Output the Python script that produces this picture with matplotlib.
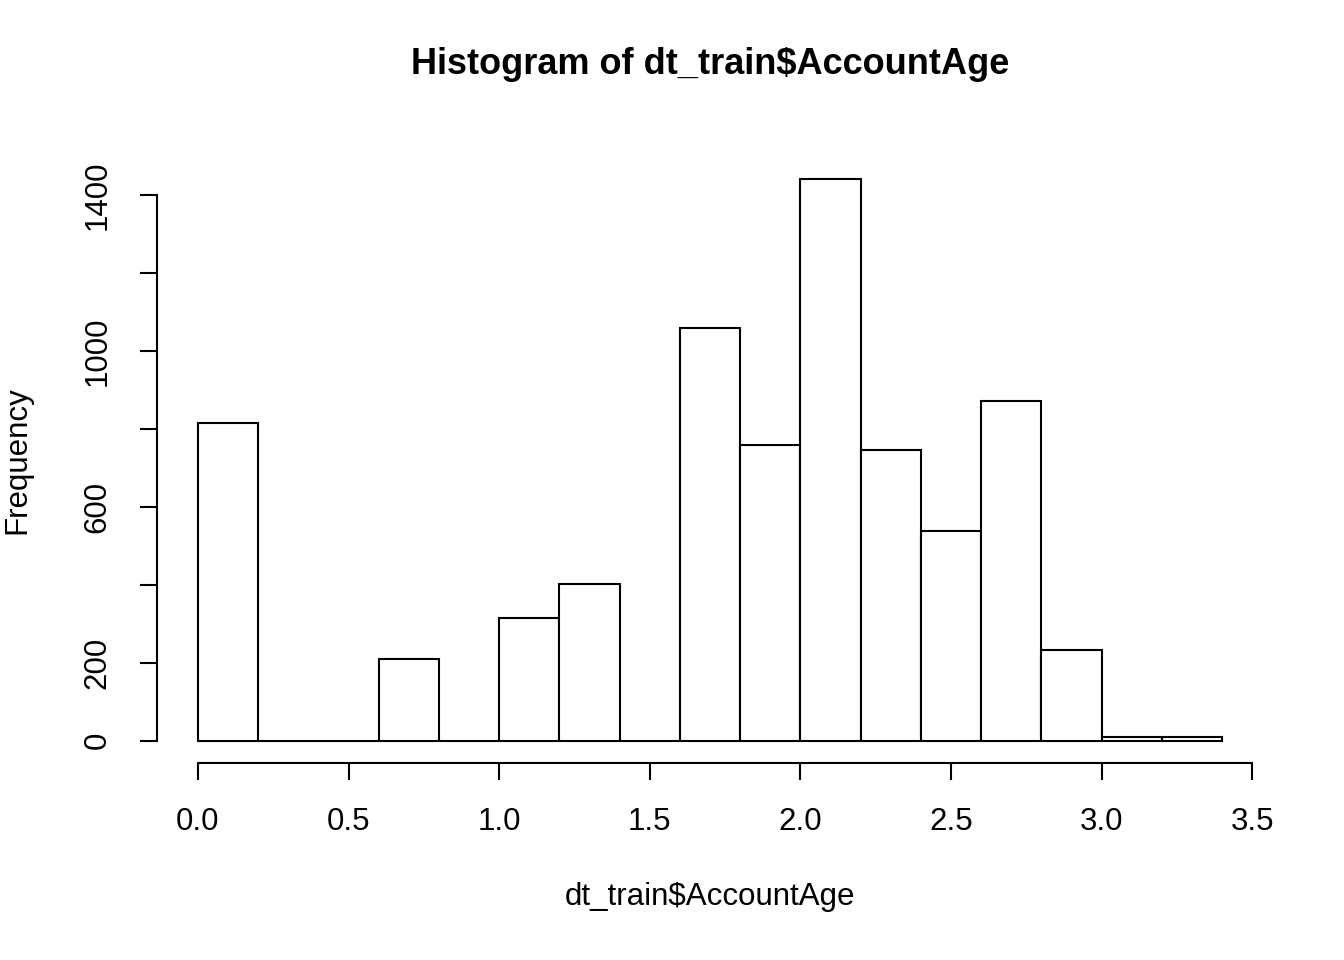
import numpy as np
import matplotlib
matplotlib.use("Agg")
import matplotlib.pyplot as plt

plt.rcParams['font.family'] = ['Liberation Sans', 'DejaVu Sans']

# histogram bins (0.2 wide) and counts
bin_edges = np.round(np.arange(0, 3.41, 0.2), 2)
counts = [815, 0, 0, 210, 0, 315, 403, 0, 1059, 759, 1441, 746, 538, 872, 233, 10, 10]
x_ticks = [0.0, 0.5, 1.0, 1.5, 2.0, 2.5, 3.0, 3.5]
y_ticks = [0, 200, 400, 600, 800, 1000, 1200, 1400]
y_labels = ['0', '200', '', '600', '', '1000', '', '1400']

W, H = 1344, 960
fig = plt.figure(figsize=(W / 100, H / 100), dpi=100)
ax = fig.add_axes([157 / W, 1 - 763 / H, (1263 - 157) / W, (763 - 157) / H])

ax.bar(bin_edges[:-1], counts, width=0.2, align='edge',
       facecolor='white', edgecolor='black', linewidth=1.5)

ax.set_xlim(-0.136, 3.536)
ax.set_ylim(-57.6, 1498.6)
for s in ['top', 'right']:
    ax.spines[s].set_visible(False)
ax.spines['bottom'].set_bounds(0, 3.5)
ax.spines['left'].set_bounds(0, 1400)
for s in ['bottom', 'left']:
    ax.spines[s].set_linewidth(1.5)

ax.set_xticks(x_ticks)
ax.set_xticklabels([f"{v:.1f}" for v in x_ticks])
ax.set_yticks(y_ticks)
ax.set_yticklabels(y_labels, rotation=90, va='center')
ax.tick_params(length=12, width=1.5, labelsize=22.5, pad=20)

ax.set_xlabel('dt_train$AccountAge', fontsize=22.5, labelpad=32)
ax.set_ylabel('Frequency', fontsize=22.5, labelpad=36)
ax.set_title('Histogram of dt_train$AccountAge', fontsize=26,
             fontweight='bold', pad=60)

fig.savefig('out.png', dpi=100)
